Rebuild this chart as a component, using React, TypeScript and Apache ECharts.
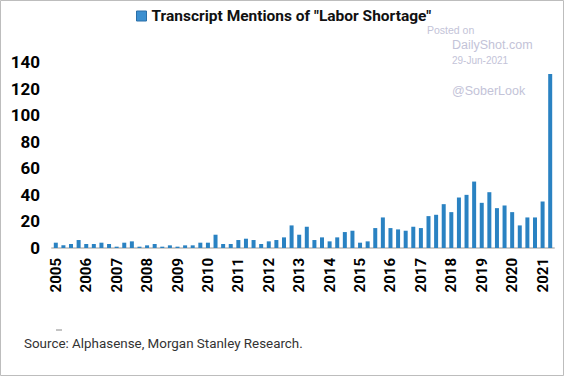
import React, { useEffect, useRef } from "react";
import * as echarts from "echarts";

const years = ["2005","2006","2007","2008","2009","2010","2011","2012","2013","2014","2015","2016","2017","2018","2019","2020","2021"];
const quarters = ["Q1", "Q2", "Q3", "Q4"];
const categories: string[] = [];
years.forEach((y) => quarters.forEach((q) => categories.push(y + " " + q)));
categories.length = 66; // through 2021 Q2

const mentions = [
  4, 2, 3, 6, 3, 3, 4, 3, 1, 4, 5, 1, 2, 3, 1, 2, 1, 2, 2, 4,
  4, 10, 3, 3, 6, 7, 6, 3, 5, 6, 8, 17, 10, 16, 6, 8, 5, 8, 12, 13,
  4, 5, 15, 23, 15, 14, 13, 16, 15, 24, 25, 33, 27, 38, 40, 50, 34, 42, 30, 32,
  27, 17, 23, 23, 35, 131,
];

const seriesName = 'Transcript Mentions of "Labor Shortage"';
const sourceText = "Source: Alphasense, Morgan Stanley Research.";

export default function App() {
  const ref = useRef<HTMLDivElement>(null);
  useEffect(() => {
    if (!ref.current) return;
    const chart = echarts.init(ref.current, null, { renderer: "svg" });
    const wm = "#c3c3d8";
    chart.setOption({
      animation: false,
      backgroundColor: "#ffffff",
      legend: {
        top: 8,
        left: 136,
        padding: 0,
        itemWidth: 10,
        itemHeight: 10,
        itemGap: 4,
        icon: "rect",
        textStyle: { fontFamily: "Roboto", fontWeight: "bold", fontSize: 15.5, color: "#111" },
        data: [{ name: seriesName, itemStyle: { color: "#3b8fd0", borderColor: "#2a6fa8", borderWidth: 1 } }],
      },
      grid: { left: 52, right: 10, top: 62, bottom: 128 },
      xAxis: {
        type: "category",
        data: categories,
        axisTick: { show: false },
        axisLine: { lineStyle: { color: "#cccccc", width: 2 } },
        axisLabel: {
          interval: 3,
          rotate: 90,
          margin: 10,
          color: "#000",
          fontFamily: "Roboto",
          fontWeight: "bold",
          fontSize: 15,
          formatter: (v: string) => v.split(" ")[0],
        },
      },
      yAxis: {
        type: "value",
        min: 0,
        max: 140,
        interval: 20,
        splitLine: { show: false },
        axisLine: { show: false },
        axisTick: { show: false },
        axisLabel: {
          color: "#000",
          fontFamily: "Roboto",
          fontWeight: "bold",
          fontSize: 17,
          margin: 12,
        },
      },
      series: [
        {
          name: seriesName,
          type: "bar",
          data: mentions,
          barWidth: 4,
          itemStyle: { color: "#2a82c2" },
        },
      ],
      graphic: [
        { type: "rect", shape: { x: 0.5, y: 0.5, width: 563, height: 375 }, style: { fill: "none", stroke: "#bdbdbd", lineWidth: 1 } },
        { type: "text", x: 427, y: 24, style: { text: "Posted on", fill: wm, font: "10.5px 'Liberation Sans', Arial" } },
        { type: "text", x: 452, y: 38, style: { text: "DailyShot.com", fill: wm, font: "12.5px 'Liberation Sans', Arial" } },
        { type: "text", x: 452, y: 55, style: { text: "29-Jun-2021", fill: wm, font: "10px 'Liberation Sans', Arial" } },
        { type: "text", x: 452, y: 84, style: { text: "@SoberLook", fill: wm, font: "12.5px 'Liberation Sans', Arial" } },
        { type: "line", shape: { x1: 56, y1: 330, x2: 62, y2: 330 }, style: { stroke: "#888", lineWidth: 1 } },
        { type: "text", x: 24, y: 337, style: { text: sourceText, fill: "#333", font: "13.4px Roboto" } },
      ],
    });
    return () => chart.dispose();
  }, []);
  return <div ref={ref} style={{ position: "fixed", left: 0, top: 0, width: 564, height: 376 }} />;
}
